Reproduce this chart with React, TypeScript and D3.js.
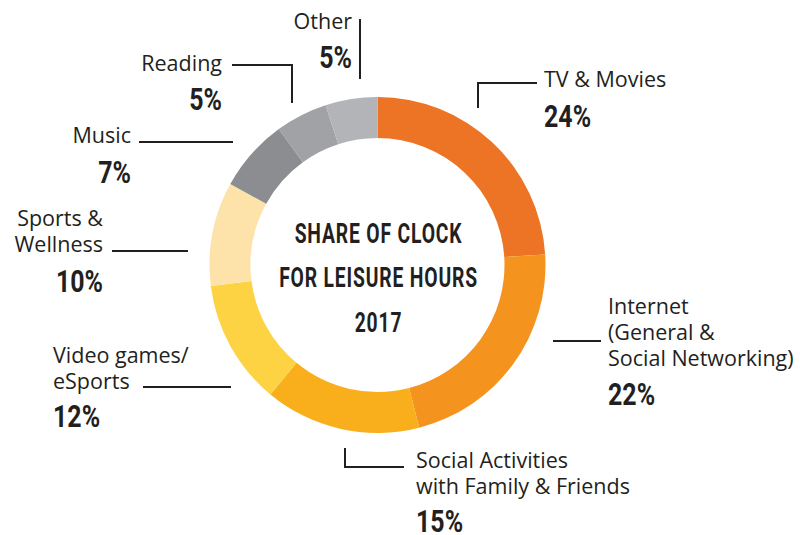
import React from "react";
import * as d3 from "d3";

const categories = [
  "TV & Movies",
  "Internet (General & Social Networking)",
  "Social Activities with Family & Friends",
  "Video games/ eSports",
  "Sports & Wellness",
  "Music",
  "Reading",
  "Other",
];
const values = [24, 22, 15, 12, 10, 7, 5, 5];
const colors = ["#EC7424", "#F5931F", "#F9AE1B", "#FDD243", "#FDE3AA", "#8C8D91", "#A1A2A6", "#B3B4B8"];
const labelLines = [
  ["TV & Movies"],
  ["Internet", "(General &", "Social Networking)"],
  ["Social Activities", "with Family & Friends"],
  ["Video games/", "eSports"],
  ["Sports &", "Wellness"],
  ["Music"],
  ["Reading"],
  ["Other"],
];
const titleLines = ["SHARE OF CLOCK", "FOR LEISURE HOURS", "2017"];

// layout of annotations (x, y of first label baseline, anchor, pct baseline, leader polyline)
const layout = [
  { x: 544, y: 87, anchor: "start", py: 127, path: [[478, 108], [478, 83], [537, 83]] },
  { x: 608, y: 314, anchor: "start", py: 405, path: [[553, 341], [601, 341]] },
  { x: 416, y: 468, anchor: "start", py: 532, path: [[345, 448], [345, 467], [404, 467]] },
  { x: 53, y: 363, anchor: "start", py: 427, path: [[143, 387], [231, 387]] },
  { x: 103, y: 226, anchor: "end", py: 292, path: [[112, 251], [188, 251]] },
  { x: 131, y: 143, anchor: "end", py: 183, path: [[139, 142], [233, 142]] },
  { x: 222, y: 71, anchor: "end", py: 110, path: [[232, 65], [292, 65], [292, 103]] },
  { x: 352, y: 29, anchor: "end", py: 68, path: [[360, 19], [360, 79]] },
];

const W = 800, H = 535;
const cx = 377.5, cy = 265;
const R = 168, r = 127;
const ink = "#231F20";

function CondText({ x, y, anchor, size, children, spacing = 0, sx = 0.7 }: any) {
  return (
    <g transform={`translate(${x},${y}) scale(${sx},1)`}>
      <text
        x={0}
        y={0}
        textAnchor={anchor}
        fontFamily="Roboto, 'Liberation Sans', sans-serif"
        fontWeight={700}
        fontSize={size}
        letterSpacing={spacing}
        fill={ink}
      >
        {children}
      </text>
    </g>
  );
}

export default function App() {
  const pie = d3.pie<number>().sort(null).value((d) => d)(values);
  const arc = d3.arc<d3.PieArcDatum<number>>().innerRadius(r).outerRadius(R);
  const line = d3.line();
  const titleY = [243, 287, 332];

  return (
    <svg width={W} height={H} style={{ position: "absolute", left: 0, top: 0, background: "#fff" }}>
      <g transform={`translate(${cx},${cy})`}>
        {pie.map((p, i) => (
          <path key={categories[i]} d={arc(p) || ""} fill={colors[i]} />
        ))}
      </g>
      {titleLines.map((t, i) => (
        <CondText key={t} x={cx + 1} y={titleY[i]} anchor="middle" size={28} spacing={1.2} sx={0.69}>
          {t}
        </CondText>
      ))}
      {layout.map((l, i) => (
        <g key={categories[i]}>
          <path d={line(l.path as [number, number][]) || ""} fill="none" stroke={ink} strokeWidth={2} />
          {labelLines[i].map((s, j) => (
            <text
              key={s}
              x={l.x}
              y={l.y + j * 26}
              textAnchor={l.anchor}
              fontFamily="'Open Sans', sans-serif"
              fontSize={21.5}
              fill={ink}
            >
              {s}
            </text>
          ))}
          <CondText x={l.x} y={l.py} anchor={l.anchor} size={32} sx={0.78}>
            {`${values[i]}%`}
          </CondText>
        </g>
      ))}
    </svg>
  );
}
